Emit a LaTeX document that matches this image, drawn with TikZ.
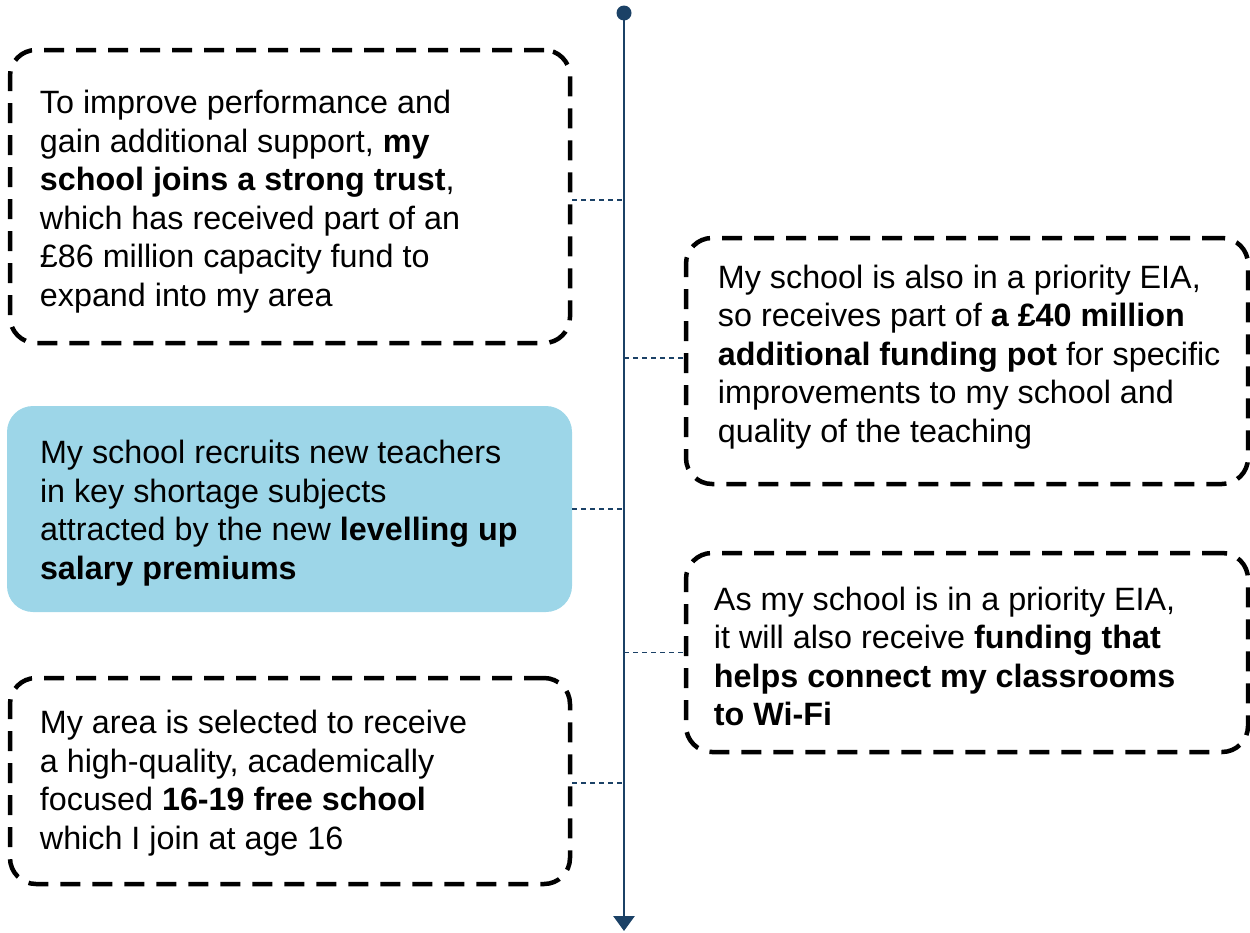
\documentclass[tikz,border=0pt]{standalone}
\usepackage{fontspec}
\setmainfont{Liberation Sans}
\usetikzlibrary{arrows.meta}
\definecolor{navy}{HTML}{1B4166}
\definecolor{lightblue}{HTML}{9DD6E8}
\tikzset{
  card/.style={rounded corners=26pt, inner sep=0pt, anchor=center},
  dashcard/.style={card, draw=black, line width=4.5pt, dash pattern=on 20pt off 12pt},
  bluecard/.style={card, fill=lightblue},
  txt/.style={anchor=west, align=left, inner sep=0pt, font=\fontsize{32.3}{38.5}\selectfont},
  link/.style={draw=navy, line width=1.8pt, dash pattern=on 5pt off 4pt},
  timeline/.style={draw=navy, line width=2.8pt, -{Triangle[width=21pt,length=15pt]}}
}
\begin{document}
\begin{tikzpicture}[x=1pt,y=-1pt]
\useasboundingbox (0,0) rectangle (1250,932);
% timeline
\node[circle, fill=navy, inner sep=0pt, minimum size=15pt] (dot) at (624,13) {};
\coordinate (tip) at (624,931);
\draw[timeline] (dot.center) -- (tip);
% boxes
\node[dashcard, minimum width=560pt, minimum height=293pt] (b1) at (290,196.5) {};
\node[txt] (t1) at ([xshift=32pt,yshift=-5pt]b1.west)
 {To improve performance and\\gain additional support, \textbf{my}\\\textbf{school joins a strong trust},\\which has received part of an\\£86 million capacity fund to\\expand into my area};
\node[dashcard, minimum width=562pt, minimum height=246pt] (b2) at (967,361) {};
\node[txt] (t2) at ([xshift=34pt,yshift=4pt]b2.west)
 {My school is also in a priority EIA,\\so receives part of \textbf{a £40 million}\\\textbf{additional funding pot} for specific\\improvements to my school and\\quality of the teaching};
\node[bluecard, minimum width=565pt, minimum height=206pt] (b3) at (289.5,509) {};
\node[txt] (t3) at ([xshift=33pt,yshift=-4pt]b3.west)
 {My school recruits new teachers\\in key shortage subjects\\attracted by the new \textbf{levelling up}\\\textbf{salary premiums}};
\node[dashcard, minimum width=562pt, minimum height=199pt] (b4) at (967,652.5) {};
\node[txt] (t4) at ([xshift=30pt,yshift=-4pt]b4.west)
 {As my school is in a priority EIA,\\it will also receive \textbf{funding that}\\\textbf{helps connect my classrooms}\\\textbf{to Wi-Fi}};
\node[dashcard, minimum width=560pt, minimum height=206pt] (b5) at (290,781) {};
\node[txt] (t5) at ([xshift=32pt,yshift=-2pt]b5.west)
 {My area is selected to receive\\a high-quality, academically\\focused \textbf{16-19 free school}\\which I join at age 16};
% connectors
\draw[link] ([yshift=-3.5pt]b1.east) -- ([yshift=-3.5pt]b1.east -| tip);
\draw[link] ([yshift=3pt]b2.west -| tip) -- ([yshift=3pt]b2.west);
\draw[link] (b3.east) -- (b3.east -| tip);
\draw[link] (b4.west -| tip) -- (b4.west);
\draw[link] ([yshift=-2pt]b5.east) -- ([yshift=-2pt]b5.east -| tip);
\end{tikzpicture}
\end{document}
